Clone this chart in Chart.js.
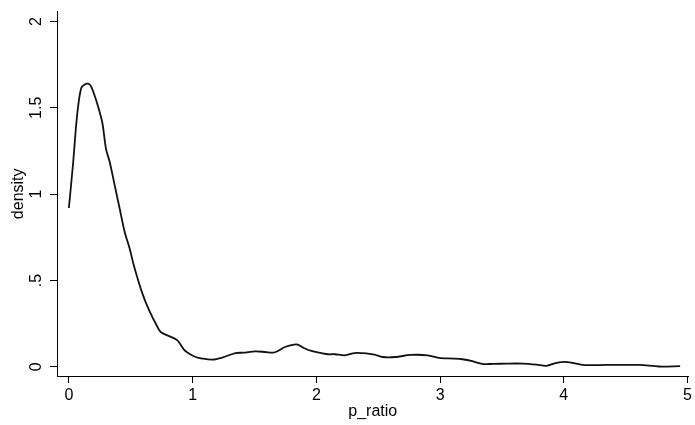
<!DOCTYPE html>
<html>
<head>
<meta charset="utf-8">
<script src="https://cdn.jsdelivr.net/npm/chart.js@4.4.1/dist/chart.umd.min.js"></script>
<style>
  html, body { margin: 0; padding: 0; background: #fff; }
  #wrap { width: 695px; height: 425px; }
</style>
</head>
<body>
<div id="wrap"><canvas id="chart" width="695" height="425"></canvas></div>
<script>
// kernel density of p_ratio
const pRatio = [
  0, 0.035, 0.056, 0.075, 0.10, 0.128, 0.155, 0.174, 0.195, 0.235,
  0.27, 0.30, 0.33, 0.37, 0.41, 0.45, 0.49, 0.53, 0.596, 0.65,
  0.717, 0.744, 0.81, 0.877, 0.93, 0.97, 1.025, 1.078, 1.16, 1.24,
  1.346, 1.41, 1.506, 1.587, 1.65, 1.69, 1.747, 1.84, 1.894, 1.96,
  2.04, 2.095, 2.15, 2.23, 2.31, 2.416, 2.47, 2.536, 2.64, 2.76,
  2.90, 2.99, 3.11, 3.18, 3.26, 3.34, 3.43, 3.54, 3.67, 3.78,
  3.86, 3.94, 4.01, 4.07, 4.15, 4.34, 4.61, 4.77, 4.94
]
const density = [
  0.92, 1.186, 1.377, 1.51, 1.615, 1.635, 1.64, 1.63, 1.597, 1.51,
  1.415, 1.262, 1.186, 1.052, 0.918, 0.784, 0.688, 0.574, 0.421, 0.325,
  0.229, 0.20, 0.178, 0.153, 0.10, 0.077, 0.057, 0.048, 0.042, 0.054,
  0.08, 0.082, 0.09, 0.086, 0.082, 0.092, 0.115, 0.13, 0.111, 0.092,
  0.08, 0.073, 0.073, 0.067, 0.08, 0.077, 0.071, 0.057, 0.057, 0.069,
  0.067, 0.052, 0.048, 0.044, 0.033, 0.017, 0.017, 0.019, 0.019, 0.013,
  0.006, 0.023, 0.029, 0.023, 0.011, 0.011, 0.011, 0.002, 0.004
]
const xTicks = [0, 1, 2, 3, 4, 5]
const yTicks = [0, 0.5, 1, 1.5, 2]
const yTickLabels = ['0', '.5', '1', '1.5', '2']

const font = { family: 'Liberation Sans, Arial, Helvetica, sans-serif', size: 16 }
const ink = '#000'

const points = pRatio.map((x, i) => ({ x, y: density[i] }))

new Chart(document.getElementById('chart'), {
  type: 'line',
  data: {
    datasets: [{
      data: points,
      borderColor: '#111',
      borderWidth: 1.8,
      pointRadius: 0,
      tension: 0.3,
      fill: false
    }]
  },
  options: {
    responsive: false,
    animation: false,
    devicePixelRatio: 1,
    layout: { padding: { top: 8, right: 2, left: 0, bottom: 0 } },
    plugins: {
      legend: { display: false },
      tooltip: { enabled: false }
    },
    scales: {
      x: {
        type: 'linear',
        min: -0.096,
        max: 5.008,
        afterBuildTicks: (scale) => {
          scale.ticks = xTicks.map(v => ({ value: v }))
        },
        afterFit: (scale) => { scale.height = 49 },
        ticks: {
          color: ink,
          font,
          padding: 3,
          maxRotation: 0,
          minRotation: 0,
          callback: (v) => String(v)
        },
        grid: {
          drawOnChartArea: false,
          drawTicks: true,
          tickLength: 7,
          color: ink,
          lineWidth: 1
        },
        border: { display: true, color: ink, width: 1 },
        title: {
          display: true,
          text: 'p_ratio',
          color: ink,
          font,
          padding: { top: 0, bottom: 4 }
        }
      },
      y: {
        type: 'linear',
        min: -0.053,
        max: 2.057,
        afterBuildTicks: (scale) => {
          scale.ticks = yTicks.map(v => ({ value: v }))
        },
        afterFit: (scale) => { scale.width = 57 },
        ticks: {
          color: ink,
          font,
          padding: 2,
          minRotation: 90,
          maxRotation: 90,
          crossAlign: 'center',
          callback: (v) => {
            const i = yTicks.indexOf(v)
            return i >= 0 ? yTickLabels[i] : ''
          }
        },
        grid: {
          drawOnChartArea: false,
          drawTicks: true,
          tickLength: 7,
          color: ink,
          lineWidth: 1
        },
        border: { display: true, color: ink, width: 1 },
        title: {
          display: true,
          text: 'density',
          color: ink,
          font,
          padding: { top: 9, bottom: 0 }
        }
      }
    }
  }
})
</script>
</body>
</html>
